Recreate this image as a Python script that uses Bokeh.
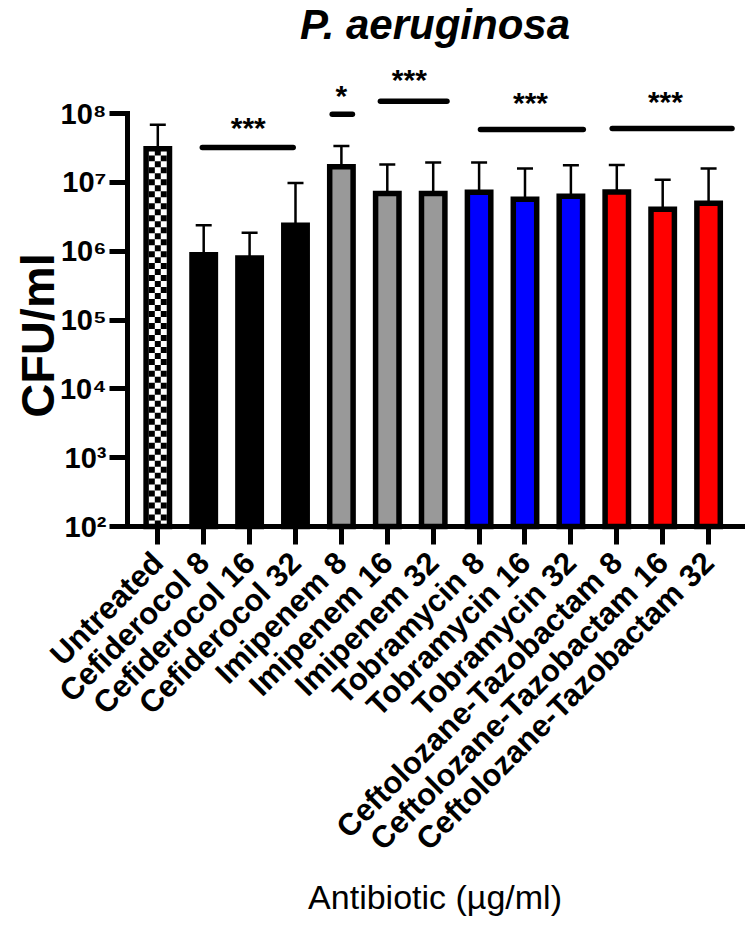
import numpy as np
from bokeh.plotting import figure
from bokeh.models import Range1d, FixedTicker, Whisker, TeeHead, ColumnDataSource
from bokeh.embed import file_html
from bokeh.resources import INLINE
from bokeh.core.properties import value

# ---------------- data ----------------
categories = ["Untreated", "Cefiderocol 8", "Cefiderocol 16", "Cefiderocol 32",
              "Imipenem 8", "Imipenem 16", "Imipenem 32",
              "Tobramycin 8", "Tobramycin 16", "Tobramycin 32",
              "Ceftolozane-Tazobactam 8", "Ceftolozane-Tazobactam 16",
              "Ceftolozane-Tazobactam 32"]
means = [3.1e7, 8.9e5, 8.0e5, 2.4e6, 1.7e7, 6.9e6, 6.9e6,
         7.2e6, 5.7e6, 6.3e6, 7.3e6, 4.1e6, 5.0e6]
upper = [6.9e7, 2.4e6, 1.86e6, 9.8e6, 3.4e7, 1.83e7, 1.95e7,
         1.95e7, 1.6e7, 1.78e7, 1.8e7, 1.1e7, 1.6e7]
fill_colors = ["#FFFFFF", "#000000", "#000000", "#000000",
               "#999999", "#999999", "#999999",
               "#0000FF", "#0000FF", "#0000FF",
               "#FF0000", "#FF0000", "#FF0000"]

y_ticks = [10 ** k for k in range(2, 9)]
y_tick_labels = ["10\u00b2", "10\u00b3", "10\u2074", "10\u2075", "10\u2076", "10\u2077", "10\u2078"]

# significance brackets (category index span, level) and their labels
sig_start = [0.97, 3.80, 4.85, 7.03, 9.90]
sig_end = [2.95, 4.24, 6.30, 9.27, 12.51]
sig_level = [10 ** 7.51, 10 ** 7.99, 10 ** 8.18, 10 ** 7.77, 10 ** 7.785]
sig_text = ["***", "*", "***", "***", "***"]
sig_text_x = [1.97, 4.0, 5.48, 8.12, 11.06]
sig_text_y = [10 ** 7.80, 10 ** 8.27, 10 ** 8.49, 10 ** 8.16, 10 ** 8.17]

title_text = "P. aeruginosa"
x_label = "Antibiotic (\u00b5g/ml)"
y_label = "CFU/ml"

FONT = "Liberation Sans"
# plotting window (the frame covers the whole canvas; axes sit at fixed locations)
X_START, X_END = -3.427, 12.913
Y_START, Y_END = 10 ** -3.799, 10 ** 9.645
AX_X0, AX_X1 = -0.66, 12.74      # extent of the x axis
AX_Y0, AX_Y1 = 1e2, 1e8          # extent of the y axis

xs = list(range(len(categories)))
src = ColumnDataSource(dict(x=xs, top=means, upper=upper, color=fill_colors))

p = figure(width=750, height=925, title=None,
           x_range=Range1d(X_START, X_END), y_range=Range1d(Y_START, Y_END),
           y_axis_type="log", output_backend="svg", toolbar_location=None,
           min_border_left=0, min_border_right=0, min_border_top=0, min_border_bottom=0)

p.xgrid.visible = False
p.ygrid.visible = False
p.outline_line_color = None
p.background_fill_color = "white"
p.border_fill_color = "white"

BW = 0.51
# bar fills
p.vbar(x="x", top="top", bottom=AX_Y0, width=BW, source=src,
       fill_color="color", line_color=None)

# checkerboard for untreated bar
cell_dec = 0.087
inner_half = 0.195
edges = np.linspace(xs[0] - inner_half, xs[0] + inner_half, 4)
top_dec = np.log10(means[0])
nrows = int(np.ceil((top_dec - 2) / cell_dec))
ql, qr, qb, qt = [], [], [], []
for r in range(nrows):
    for c in range(3):
        if (r + c) % 2 == 1:
            ql.append(edges[c]); qr.append(edges[c + 1])
            qb.append(10 ** (2 + r * cell_dec))
            qt.append(10 ** min(2 + (r + 1) * cell_dec, top_dec))
p.quad(left=ql, right=qr, bottom=qb, top=qt, fill_color="black", line_color=None)

# error bars
wh = Whisker(base="x", upper="upper", lower="top", source=src,
             upper_head=TeeHead(size=16, line_width=2.5, line_color="black"),
             lower_head=None, line_width=2.5, line_color="black", level="glyph")
p.add_layout(wh)

# bar outlines
p.vbar(x="x", top="top", bottom=AX_Y0, width=BW, source=src,
       fill_alpha=0, line_color="black", line_width=5.5, line_join="miter")

# significance
p.segment(x0=sig_start, y0=sig_level, x1=sig_end, y1=sig_level,
          line_width=5.5, line_color="black", line_cap="round")
p.text(x=sig_text_x, y=sig_text_y, text=sig_text, text_align="center",
       text_baseline="alphabetic", text_font=value(FONT), text_font_style="bold",
       text_font_size="30px", text_color="black")

# axes at fixed locations
for ax in (p.xaxis[0], p.yaxis[0]):
    ax.axis_line_width = 5
    ax.axis_line_color = "black"
    ax.axis_line_cap = "square"
    ax.major_tick_out = 18
    ax.major_tick_in = 0
    ax.major_tick_line_width = 5
    ax.major_tick_line_color = "black"
    ax.minor_tick_line_color = None
    ax.major_label_text_font = FONT
    ax.major_label_text_font_style = "bold"
    ax.major_label_text_color = "black"

p.yaxis.fixed_location = AX_X0
p.yaxis.bounds = (AX_Y0, AX_Y1)
p.yaxis.ticker = FixedTicker(ticks=y_ticks)
p.yaxis.major_label_overrides = {t: l for t, l in zip(y_ticks, y_tick_labels)}
p.yaxis.major_label_text_font_size = "29px"
p.yaxis.major_label_standoff = 3

p.xaxis.fixed_location = AX_Y0
p.xaxis.bounds = (AX_X0, AX_X1)
p.xaxis.ticker = FixedTicker(ticks=xs)
p.xaxis.major_label_overrides = {i: c for i, c in zip(xs, categories)}
p.xaxis.major_label_orientation = np.pi / 4
p.xaxis.major_label_text_font_size = "31px"
p.xaxis.major_label_standoff = 13

# title and axis titles
p.text(x=[(AX_X0 + AX_X1) / 2], y=[10 ** 9.30], text=[title_text],
       text_align="center", text_baseline="middle", text_font=value(FONT),
       text_font_style="bold italic", text_font_size="42px", text_color="black")
p.text(x=[AX_X0 - 1.96], y=[10 ** 4.776], text=[y_label], angle=np.pi / 2,
       text_align="center", text_baseline="middle", text_font=value(FONT),
       text_font_style="bold", text_font_size="47px", text_color="black")
p.text(x=[(AX_X0 + AX_X1) / 2], y=[10 ** -3.378], text=[x_label],
       text_align="center", text_baseline="middle", text_font=value(FONT),
       text_font_style="normal", text_font_size="34px", text_color="black")

open("out.html", "w").write(file_html(p, INLINE))
